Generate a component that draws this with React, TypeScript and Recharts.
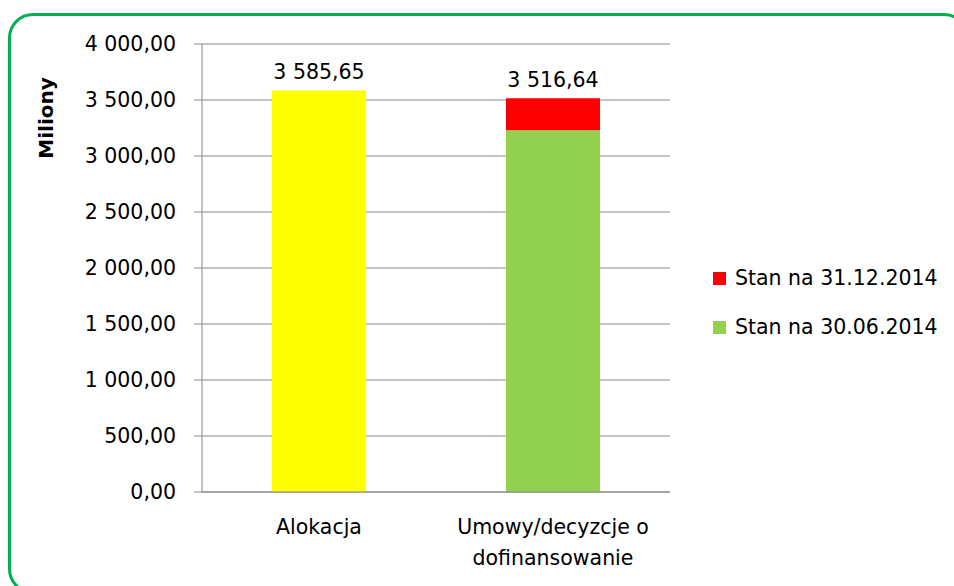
import React from 'react';
import { BarChart, Bar, XAxis, YAxis, CartesianGrid, LabelList } from 'recharts';

const CATEGORIES = ['Alokacja', 'Umowy/decyzcje o dofinansowanie'];
const ALOKACJA = [3585.65, null];
const STAN_30_06 = [null, 3231.0];
const STAN_31_12 = [null, 285.64];
const Y_TICKS = [0, 500, 1000, 1500, 2000, 2500, 3000, 3500, 4000];
const LEGEND_NAMES = ['Stan na 31.12.2014', 'Stan na 30.06.2014'];

const YELLOW = '#FFFF00';
const GREEN = '#92D050';
const RED = '#FF0000';
const GRID = '#868686';
const FONT = '"DejaVu Sans", sans-serif';

const data = CATEGORIES.map((name, i) => ({
  name,
  alokacja: ALOKACJA[i],
  s0630: STAN_30_06[i],
  s1231: STAN_31_12[i],
  total: (ALOKACJA[i] || 0) + (STAN_30_06[i] || 0) + (STAN_31_12[i] || 0),
}));

// 3585.65 -> "3 585,65"
const fmt = (v: number) => {
  const [int, dec] = v.toFixed(2).split('.');
  return int.replace(/\B(?=(\d{3})+(?!\d))/g, ' ') + ',' + dec;
};

const wrap = (text: string, max: number) => {
  const lines: string[] = [];
  let cur = '';
  text.split(' ').forEach((w) => {
    const next = cur ? cur + ' ' + w : w;
    if (next.length > max && cur) {
      lines.push(cur);
      cur = w;
    } else cur = next;
  });
  if (cur) lines.push(cur);
  return lines;
};

const CategoryTick = (props: any) => {
  const { x, y, payload } = props;
  const lines = wrap(payload.value, 16);
  return (
    <g>
      {lines.map((l, i) => (
        <text key={i} x={x} y={y + 34 + i * 31} textAnchor="middle" fill="#000" fontSize={20.5} fontFamily={FONT}>
          {l}
        </text>
      ))}
    </g>
  );
};

// total above the top segment of each stack
const totalOf = (key: 'alokacja' | 's1231') => (entry: any) => (entry[key] == null ? null : entry.total);

const TotalLabel = (props: any) => {
  const { x, y, width, value } = props;
  if (value == null || value === '') return null;
  return (
    <text x={x + width / 2} y={y - 11} textAnchor="middle" fill="#000" fontSize={20.5} fontFamily={FONT}>
      {fmt(Number(value))}
    </text>
  );
};

const App: React.FC = () => {
  return (
    <div style={{ position: 'relative', width: 954, height: 586, overflow: 'hidden', background: '#fff' }}>
      <style>{`body{margin:0}`}</style>
      <div
        style={{
          position: 'absolute',
          left: 8,
          top: 13,
          width: 961,
          height: 581,
          border: '3px solid #00B050',
          borderRadius: 25,
          boxSizing: 'border-box',
        }}
      />
      <BarChart
        width={954}
        height={586}
        data={data}
        margin={{ top: 44, right: 284, bottom: 0, left: 0 }}
        style={{ position: 'absolute', left: 0, top: 0 }}
      >
        <CartesianGrid vertical={false} stroke={GRID} />
        <XAxis
          xAxisId="bounds"
          type="number"
          domain={[0, 2]}
          ticks={[0, 1, 2]}
          allowDataOverflow
          tick={false}
          axisLine={false}
          tickLine={{ stroke: GRID }}
          tickSize={8}
          height={0}
        />
        <XAxis
          dataKey="name"
          height={94}
          tick={<CategoryTick />}
          tickLine={false}
          axisLine={{ stroke: GRID }}
          interval={0}
        />
        <YAxis
          width={202}
          domain={[0, 4000]}
          ticks={Y_TICKS}
          tickFormatter={fmt}
          tickSize={8}
          tickMargin={18}
          tickLine={{ stroke: GRID }}
          axisLine={{ stroke: GRID }}
          tick={{ fill: '#000', fontSize: 20.5, fontFamily: FONT }}
          label={{
            content: (p: any) => (
              <text
                transform={`translate(${p.viewBox.x + 53}, ${p.viewBox.y + 74}) rotate(-90)`}
                textAnchor="middle"
                fontSize={20}
                fontWeight="bold"
                fontFamily={FONT}
                fill="#000"
              >
                Miliony
              </text>
            ),
          }}
        />
        <Bar dataKey="alokacja" stackId="a" fill={YELLOW} barSize={94} isAnimationActive={false}>
          <LabelList dataKey={totalOf('alokacja')} content={<TotalLabel />} />
        </Bar>
        <Bar dataKey="s0630" stackId="a" fill={GREEN} barSize={94} isAnimationActive={false} />
        <Bar dataKey="s1231" stackId="a" fill={RED} barSize={94} isAnimationActive={false}>
          <LabelList dataKey={totalOf('s1231')} content={<TotalLabel />} />
        </Bar>
      </BarChart>
      {LEGEND_NAMES.map((name, i) => (
        <div
          key={name}
          style={{
            position: 'absolute',
            left: 713,
            top: 264 + i * 49,
            height: 28,
            display: 'flex',
            alignItems: 'center',
            fontFamily: FONT,
            fontSize: 20.5,
            color: '#000',
            whiteSpace: 'nowrap',
          }}
        >
          <span style={{ width: 13, height: 13, background: i === 0 ? RED : GREEN, marginRight: 9 }} />
          {name}
        </div>
      ))}
    </div>
  );
};

export default App;
